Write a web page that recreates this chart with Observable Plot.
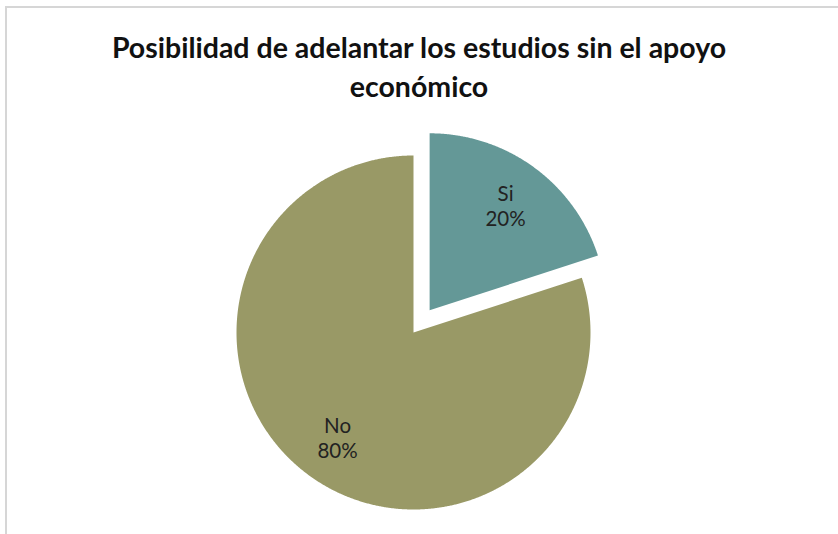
<!DOCTYPE html>
<html>
<head>
<meta charset="utf-8">
<script src="https://cdn.jsdelivr.net/npm/d3@7"></script>
<script src="https://cdn.jsdelivr.net/npm/@observablehq/plot@0.6"></script>
<style>
  html, body { margin: 0; padding: 0; background: #fff; }
  #wrap { position: relative; width: 838px; height: 534px; overflow: hidden; }
  #frame { position: absolute; left: 5px; top: 6px; width: 840px; height: 540px;
           border-top: 2px solid #d6d6d6; border-left: 2px solid #d6d6d6; }
  #title { position: absolute; left: 0; top: 27.5px; width: 838px; text-align: center;
           font-family: Lato, "Open Sans", sans-serif; font-weight: bold; font-size: 28.5px;
           line-height: 39px; color: #111; white-space: nowrap; }
  #chart { position: absolute; left: 0; top: 110px; }
</style>
</head>
<body>
<div id="wrap">
  <div id="frame"></div>
  <div id="title">Posibilidad de adelantar los estudios sin el apoyo<br>económico</div>
  <div id="chart"></div>
</div>
<script>
const categories = ["Si", "No"];
const values = [20, 80];
const percentLabels = ["20%", "80%"];
const sliceColors = ["#649897", "#999966"];
const explode = [0.155, 0];

const W = 838, H = 424;
const R = 177, cx = 413, cy = 222;

const arcs = d3.pie().sort(null).value(d => d)(values);

const slicePoints = [];
const labelPoints = [];
arcs.forEach((a, i) => {
  const mid = (a.startAngle + a.endAngle) / 2;
  const ox = explode[i] * Math.sin(mid), oy = explode[i] * Math.cos(mid);
  slicePoints.push({category: categories[i], x: ox, y: oy});
  const n = Math.max(2, Math.ceil((a.endAngle - a.startAngle) / 0.005));
  for (let k = 0; k <= n; k++) {
    const t = a.startAngle + (a.endAngle - a.startAngle) * k / n;
    slicePoints.push({category: categories[i], x: ox + Math.sin(t), y: oy + Math.cos(t)});
  }
  labelPoints.push({
    category: categories[i],
    text: categories[i] + "\n" + percentLabels[i],
    x: ox + 0.73 * Math.sin(mid),
    y: oy + 0.73 * Math.cos(mid)
  });
});

const plot = Plot.plot({
  width: W,
  height: H,
  margin: 0,
  x: {domain: [-cx / R, (W - cx) / R], axis: null},
  y: {domain: [-(H - cy) / R, cy / R], axis: null},
  color: {domain: categories, range: sliceColors},
  style: {background: "transparent"},
  marks: [
    Plot.line(slicePoints, {x: "x", y: "y", z: "category", fill: "category", stroke: null, curve: "linear-closed"}),
    Plot.text(labelPoints, {x: "x", y: "y", text: "text", fontSize: 20.5, lineHeight: 1.22,
      fill: "#222", fontFamily: "Lato, 'Open Sans', sans-serif"})
  ]
});
document.getElementById("chart").appendChild(plot);
</script>
</body>
</html>
